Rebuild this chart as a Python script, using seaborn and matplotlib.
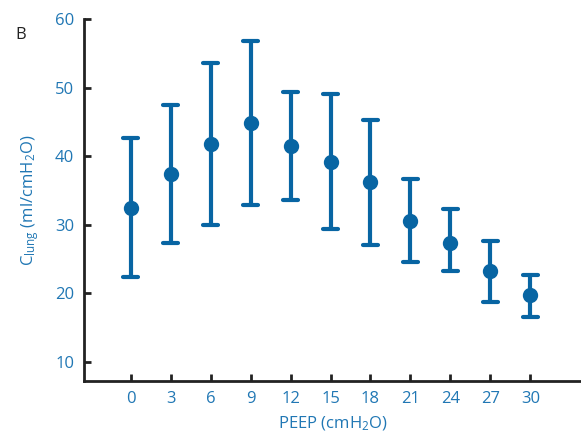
import pandas as pd
import seaborn as sns
import matplotlib.pyplot as plt

# PEEP levels and compliance (mean with lower / upper limits)
peep = [0, 3, 6, 9, 12, 15, 18, 21, 24, 27, 30]
c_mean = [32.5, 37.4, 41.8, 44.9, 41.5, 39.2, 36.3, 30.6, 27.4, 23.3, 19.7]
c_low = [22.3, 27.4, 30.0, 32.9, 33.6, 29.4, 27.1, 24.5, 23.2, 18.7, 16.6]
c_high = [42.7, 47.5, 53.6, 56.8, 49.3, 49.0, 45.2, 36.7, 32.3, 27.6, 22.6]

blue = '#0865a3'
text_blue = '#2077b4'

sns.set_style('ticks')
plt.rcParams['font.family'] = ['Open Sans', 'DejaVu Sans']
plt.rcParams['mathtext.fontset'] = 'custom'
plt.rcParams['mathtext.rm'] = 'Open Sans'
plt.rcParams['mathtext.it'] = 'Open Sans'

# long table: median of (low, mean, high) = mean, full range = low..high
rows = []
for p, lo, m, hi in zip(peep, c_low, c_mean, c_high):
    for v in (lo, m, hi):
        rows.append({'PEEP': p, 'C': v})
df = pd.DataFrame(rows)

fig = plt.figure(figsize=(5.81, 4.36), dpi=100)
ax = fig.add_axes([0.1446, 0.1261, 0.8554, 0.8303])

sns.pointplot(data=df, x='PEEP', y='C', estimator='median', errorbar=('pi', 100),
              native_scale=True, linestyle='none', color=blue, capsize=0.36,
              err_kws={'linewidth': 3}, markersize=9, ax=ax)

ax.set_xlim(-3.5, 33.8)
ax.set_ylim(7.2, 60)
ax.set_xticks(peep)
ax.set_yticks([10, 20, 30, 40, 50, 60])
ax.tick_params(direction='in', length=5, width=2, color='#222222',
               labelcolor=text_blue, labelsize=12, pad=7)
for s in ['left', 'bottom']:
    ax.spines[s].set_linewidth(2)
    ax.spines[s].set_color('#222222')
sns.despine(ax=ax)

ax.set_xlabel('PEEP (cmH$_2$O)', color=text_blue, fontsize=12, labelpad=6)
ax.set_ylabel('C$_{lung}$ (ml/cmH$_2$O)', color=text_blue, fontsize=12, labelpad=10)
fig.text(0.026, 0.91, 'B', fontsize=12, color='#222222')

fig.savefig('out.png', dpi=100)
